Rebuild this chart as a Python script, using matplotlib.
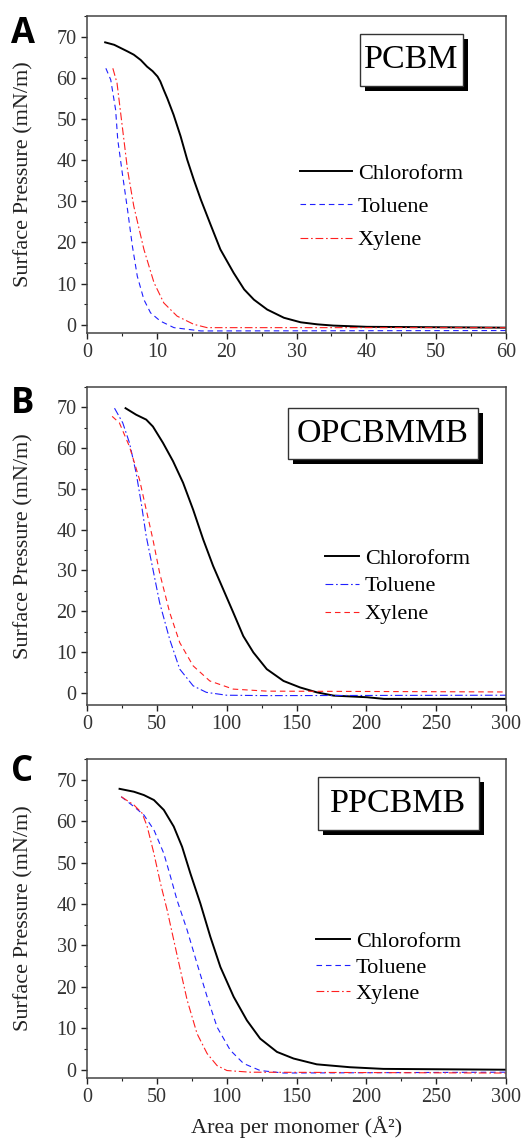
import matplotlib
matplotlib.use("Agg")
import matplotlib.pyplot as plt
import matplotlib.patheffects as pe
from matplotlib.patches import Rectangle
from matplotlib.ticker import MultipleLocator

# panel A - PCBM
a_chl_x = [2.6, 3.9, 5.8, 6.7, 7.7, 8.6, 9.4, 10.1, 10.5, 11.0, 11.5, 12.4, 13.4, 14.35, 15.3, 16.3, 17.7,
           19.1, 21.0, 22.5, 23.9, 25.8, 28.2, 30.6, 33.0, 35.3, 40.1, 60.0]
a_chl_y = [68.6, 68.0, 66.4, 65.6, 64.3, 62.7, 61.6, 60.3, 59.1, 57.0, 55.0, 51.0, 45.8, 40.1, 35.2, 30.4,
           24.3, 18.3, 12.6, 8.6, 6.1, 3.7, 1.7, 0.6, 0.1, -0.2, -0.5, -0.7]
a_tol_x = [2.7, 3.4, 4.1, 4.4, 5.05, 5.8, 6.5, 7.2, 8.15, 9.1, 10.5, 12.45, 16.3, 60.0]
a_tol_y = [62.3, 59.5, 52.2, 45.0, 36.9, 28.0, 19.1, 11.8, 6.1, 2.9, 0.9, -0.7, -1.5, -1.4]
a_xyl_x = [3.7, 4.3, 5.05, 5.8, 6.7, 8.15, 9.6, 11.0, 12.9, 15.3, 17.2, 60.0]
a_xyl_y = [62.3, 58.7, 48.2, 37.7, 28.8, 18.3, 10.2, 5.3, 2.1, 0.1, -0.7, -0.7]

# panel B - OPCBMMB
b_chl_x = [27.6, 35.2, 42.4, 47.2, 54.4, 61.6, 68.8, 76.0, 83.2, 90.3, 97.5, 104.7, 111.9, 119.1,
           128.7, 140.7, 152.6, 164.6, 176.6, 200.6, 212.6, 300.0]
b_chl_y = [69.8, 68.2, 67.0, 65.3, 61.3, 56.8, 51.5, 44.9, 37.6, 31.1, 25.4, 19.7, 13.9, 9.9,
           5.8, 2.9, 1.3, 0.1, -0.7, -1.1, -1.5, -1.5]
b_tol_x = [19.7, 25.6, 30.4, 35.2, 38.8, 42.4, 47.2, 52.0, 59.2, 66.4, 76.0, 85.5, 99.9, 128.7, 300.0]
b_tol_y = [69.8, 66.2, 61.3, 53.9, 46.6, 38.4, 30.3, 22.1, 13.1, 5.8, 1.7, 0.1, -0.6, -0.7, -0.6]
b_xyl_x = [18.0, 23.2, 30.4, 37.6, 42.4, 47.2, 52.0, 59.2, 66.4, 76.0, 87.9, 104.7, 128.7, 300.0]
b_xyl_y = [67.8, 66.2, 60.4, 52.3, 44.9, 37.6, 29.4, 19.7, 12.3, 6.6, 2.9, 0.9, 0.4, 0.2]

# panel C - PPCBMB
c_chl_x = [23.3, 33.6, 40.7, 47.9, 55.0, 62.1, 68.1, 74.0, 81.2, 88.3, 95.5, 105.0, 114.5, 124.0,
           136.0, 147.9, 164.5, 188.3, 212.1, 300.0]
c_chl_y = [67.8, 67.1, 66.3, 65.1, 62.7, 58.7, 53.8, 47.4, 40.1, 32.1, 24.8, 17.6, 11.9, 7.5,
           4.3, 2.7, 1.3, 0.6, 0.2, 0.0]
c_tol_x = [24.5, 33.6, 40.7, 47.9, 55.0, 59.8, 64.5, 71.7, 78.8, 86.0, 93.1, 102.6, 112.1, 124.0, 140.7, 300.0]
c_tol_y = [65.9, 63.5, 61.5, 57.9, 52.2, 46.6, 40.9, 33.7, 25.6, 17.6, 10.3, 4.7, 1.5, -0.2, -0.8, -0.6]
c_xyl_x = [24.5, 33.6, 39.5, 43.1, 47.9, 52.6, 57.4, 62.1, 66.9, 71.7, 78.8, 86.0, 93.1, 100.2, 116.9, 300.0]
c_xyl_y = [65.9, 63.9, 61.9, 58.7, 52.2, 45.0, 38.5, 31.3, 24.0, 16.8, 8.7, 3.9, 1.0, -0.2, -0.6, -0.8]

names = ['PCBM', 'OPCBMMB', 'PPCBMB']
letters = ['A', 'B', 'C']

plt.rcParams['font.family'] = ['Liberation Serif', 'DejaVu Serif']

W, H = 522, 1139
fig = plt.figure(figsize=(W / 100, H / 100), dpi=100)

DASH = (0, (5, 3.5))
DASHDOT = (0, (7, 2.5, 1.5, 2.5))

# box and legend spots are in pixels of the figure
panels = [
    dict(top=16, bot=333, xmax=60, ymin=-2, xmaj=10, xmin_=5,
         tol=(a_tol_x, a_tol_y, DASH), xyl=(a_xyl_x, a_xyl_y, DASHDOT), chl=(a_chl_x, a_chl_y),
         box=(360, 34, 463, 86), leg=(300, 163), hl=2.35, ls=0.58, base=43),
    dict(top=387, bot=705, xmax=300, ymin=-3, xmaj=50, xmin_=25,
         tol=(b_tol_x, b_tol_y, DASHDOT), xyl=(b_xyl_x, b_xyl_y, DASH), chl=(b_chl_x, b_chl_y),
         box=(288, 408, 478, 459), leg=(325, 548), hl=1.55, ls=0.33, base=413),
    dict(top=759, bot=1078, xmax=300, ymin=-2, xmaj=50, xmin_=25,
         tol=(c_tol_x, c_tol_y, DASH), xyl=(c_xyl_x, c_xyl_y, DASHDOT), chl=(c_chl_x, c_chl_y),
         box=(318, 777, 479, 830), leg=(316, 931), hl=1.55, ls=0.26, base=781),
]

left, right = 87, 506
for i, p in enumerate(panels):
    hgt = p['bot'] - p['top']
    ax = fig.add_axes([left / W, 1 - p['bot'] / H, (right - left) / W, hgt / H])

    def ax_xy(px, py):
        return (px - left) / (right - left), (p['bot'] - py) / hgt

    ax.plot(p['chl'][0], p['chl'][1], color='black', lw=1.4, label='Chloroform')
    ax.plot(p['tol'][0], p['tol'][1], color='#2020ff', lw=0.8, linestyle=p['tol'][2], label='Toluene')
    ax.plot(p['xyl'][0], p['xyl'][1], color='#ff2020', lw=0.8, linestyle=p['xyl'][2], label='Xylene')

    ax.set_xlim(0, p['xmax'])
    ax.set_ylim(p['ymin'], 75)
    ax.xaxis.set_major_locator(MultipleLocator(p['xmaj']))
    ax.xaxis.set_minor_locator(MultipleLocator(p['xmin_']))
    ax.yaxis.set_minor_locator(MultipleLocator(5))
    ax.set_yticks(range(0, 71, 10))
    ax.tick_params(which='major', direction='out', length=4.5, width=1, labelsize=14.5,
                   colors='#222222', labelcolor='#333333', pad=3)
    ax.tick_params(which='minor', direction='out', length=2.5, width=0.8, colors='#222222')
    ax.tick_params(top=False, right=False, which='both')
    for s in ax.spines.values():
        s.set_color('#444444')
        s.set_linewidth(1.1)

    x0, y1 = ax_xy(p['box'][0], p['box'][1])
    x1, y0 = ax_xy(p['box'][2], p['box'][3])
    rect = Rectangle((x0, y0), x1 - x0, y1 - y0, transform=ax.transAxes, fc='white', ec='#333333',
                     lw=1.0, zorder=5)
    rect.set_path_effects([pe.SimplePatchShadow(offset=(3.5, -3.5), shadow_rgbFace='black', alpha=1.0),
                           pe.Normal()])
    ax.add_patch(rect)
    ax.text((x0 + x1) / 2, (y0 + y1) / 2, names[i], transform=ax.transAxes, ha='center', va='center',
            fontsize=24.5, zorder=6)

    lx, ly = ax_xy(*p['leg'])
    ax.legend(loc='upper left', bbox_to_anchor=(lx, ly), frameon=False, fontsize=16,
              handlelength=p['hl'], handletextpad=0.25, labelspacing=p['ls'],
              borderpad=0, borderaxespad=0)

    fig.text(11 / W, 1 - p['base'] / H, letters[i], fontsize=25, fontweight='bold',
             family=['Open Sans', 'DejaVu Sans'], ha='left', va='baseline')
    fig.text(24 / W, 1 - (p['top'] + p['bot']) / 2 / H, 'Surface Pressure (mN/m)', rotation=90,
             ha='center', va='center', fontsize=16, color='#222222')

fig.text((left + right) / 2 / W, 1 - 1133 / H, 'Area per monomer (Å²)', ha='center', va='baseline',
         fontsize=16, color='#222222')

fig.savefig('out.png', dpi=100)
